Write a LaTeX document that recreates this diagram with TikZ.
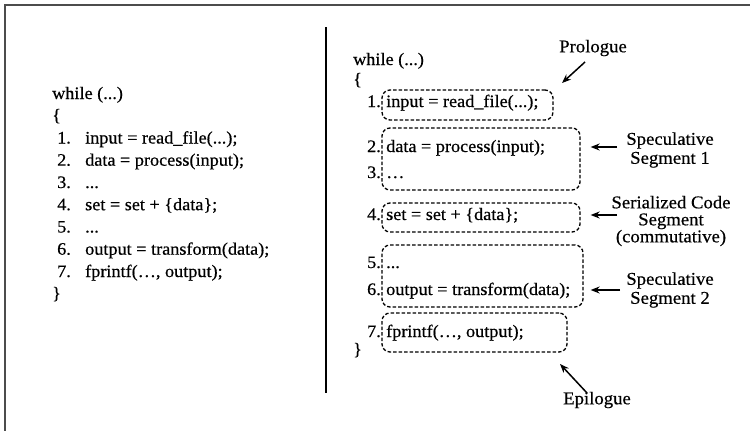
\documentclass[tikz,border=0pt]{standalone}
\usepackage{fontspec}
\setmainfont{Liberation Serif}[FakeStretch=1.04,FakeBold=0.5]
\usetikzlibrary{arrows.meta}
\begin{document}
\begin{tikzpicture}[x=1pt,y=-1pt,
  every node/.style={inner sep=0pt,font=\fontsize{17.5}{20}\selectfont},
  code/.style={anchor=base west},
  num/.style={anchor=base east},
  segbox/.style={draw,dashed,dash pattern=on 3.5pt off 2pt,line width=1.3pt,rounded corners=8pt},
  lab/.style={align=center,inner sep=2pt,font=\fontsize{18}{20}\selectfont},
  arr/.style={-{Stealth[length=9pt,width=7pt]},line width=1.5pt}]
\useasboundingbox (0,0) rectangle (750,431);
\draw[line width=1.5pt,black!70] (750,5) -- (5,5) -- (5,431);
\draw[line width=2pt] (326,27) -- (326,393);
% left code
\node[code] (lw) at (52,99) {while (...)};
\node[code] (lo) at (52,121) {\{};
\node[code] (ln1) at (57,143.5) {1.};
\node[code] (lc1) at (85,143.5) {input = read\_file(...);};
\node[code] (ln2) at (57,165.7) {2.};
\node[code] (lc2) at (85,165.7) {data = process(input);};
\node[code] (ln3) at (57,188) {3.};
\node[code] (lc3) at (85,188) {...};
\node[code] (ln4) at (57,210.2) {4.};
\node[code] (lc4) at (85,210.2) {set = set + \{data\};};
\node[code] (ln5) at (57,232.5) {5.};
\node[code] (lc5) at (85,232.5) {...};
\node[code] (ln6) at (57,254.7) {6.};
\node[code] (lc6) at (85,254.7) {output = transform(data);};
\node[code] (ln7) at (57,277) {7.};
\node[code] (lc7) at (85,277) {fprintf(…, output);};
\node[code] (lcl) at (52,299) {\}};
% right code
\node[code] (rw) at (353,65) {while (...)};
\node[code] (ro) at (353,85) {\{};
\node[num] (rn1) at (381,107) {1.};
\node[code] (rc1) at (386,107) {input = read\_file(...);};
\node[num] (rn2) at (381,152) {2.};
\node[code] (rc2) at (386,152) {data = process(input);};
\node[num] (rn3) at (381,178) {3.};
\node[code] (rc3) at (386,178) {…};
\node[num] (rn4) at (381,220) {4.};
\node[code] (rc4) at (386,220) {set = set + \{data\};};
\node[num] (rn5) at (381,268) {5.};
\node[code] (rc5) at (386,268) {...};
\node[num] (rn6) at (381,295) {6.};
\node[code] (rc6) at (386,295) {output = transform(data);};
\node[num] (rn7) at (381,337) {7.};
\node[code] (rc7) at (386,337) {fprintf(…, output);};
\node[code] (rcl) at (353,355) {\}};
% boxes
\node[segbox,minimum width=171pt,minimum height=30pt] (b1) at (467.5,105) {};
\node[segbox,minimum width=198pt,minimum height=62pt] (b2) at (481,159) {};
\node[segbox,minimum width=198pt,minimum height=29pt] (b4) at (481,217.5) {};
\node[segbox,minimum width=201pt,minimum height=62pt] (b5) at (482.5,276) {};
\node[segbox,minimum width=185pt,minimum height=39pt] (b7) at (474.5,332.5) {};
% labels
\node[lab] (pro) at (593,48) {Prologue};
\node[lab] (s1) at (670,150) {Speculative\\[-1pt]Segment 1};
\node[lab,font=\fontsize{18}{17}\selectfont] (ser) at (671,221) {Serialized Code\\Segment\\(commutative)};
\node[lab] (s2) at (670,290) {Speculative\\[-1pt]Segment 2};
\node[lab] (epi) at (597,400) {Epilogue};
% arrows
\coordinate (tp) at (585,62);
\coordinate (hp) at (562,83);
\coordinate (t1) at (617,147);
\coordinate (t4) at (617,215);
\coordinate (t5) at (620,290);
\coordinate (te) at (587,393);
\coordinate (he) at (560,364);
\draw[arr] (tp) -- (hp);
\draw[arr,shorten >=10pt] (t1) -- (t1 -| b2.east);
\draw[arr,shorten >=10pt] (t4) -- (t4 -| b4.east);
\draw[arr,shorten >=7pt] (t5) -- (t5 -| b5.east);
\draw[arr] (te) -- (he);
\end{tikzpicture}
\end{document}
